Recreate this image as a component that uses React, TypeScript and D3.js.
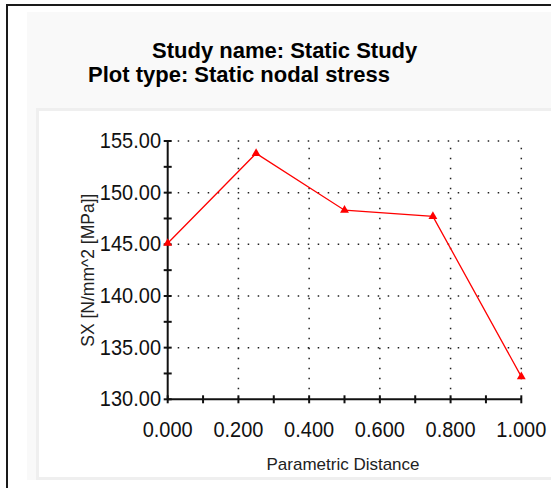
import { useEffect, useRef } from "react"
import * as d3 from "d3"

// Values
const distances = [0, 0.25, 0.5, 0.75, 1.0]
const stressValues = [145.1, 153.8, 148.3, 147.7, 132.2]
const yTicks = [130, 135, 140, 145, 150, 155]
const yMinorTicks = [132.5, 137.5, 142.5, 147.5, 152.5]
const xTicks = [0, 0.2, 0.4, 0.6, 0.8, 1.0]
const xMinorTicks = [0.1, 0.3, 0.5, 0.7, 0.9]
const titleLines = ["Study name: Static Study", "Plot type: Static nodal stress"]
const xLabel = "Parametric Distance"
const yLabel = "SX [N/mm^2 [MPa]]"

const WIDTH = 551
const HEIGHT = 488

export default function App() {
  const svgRef = useRef<SVGSVGElement>(null)

  useEffect(() => {
    if (!svgRef.current) return
    const svg = d3.select(svgRef.current)
    svg.selectAll("*").remove()

    const font = "Arial, 'Liberation Sans', sans-serif"

    // Window frame + panels
    svg.append("rect").attr("width", WIDTH).attr("height", HEIGHT).attr("fill", "#fff")
    svg.append("rect")
      .attr("x", 27).attr("y", 12).attr("width", WIDTH - 27).attr("height", 468)
      .attr("fill", "#f9f9f9")
    svg.append("rect")
      .attr("x", 37.5).attr("y", 109.5).attr("width", WIDTH).attr("height", 369)
      .attr("fill", "#fff").attr("stroke", "#efefef").attr("stroke-width", 3)
    svg.append("path")
      .attr("d", `M7,${HEIGHT} V5 H${WIDTH}`)
      .attr("fill", "none").attr("stroke", "#1a1a1a").attr("stroke-width", 2)

    // Titles
    svg.append("text")
      .attr("x", 152).attr("y", 58)
      .attr("font-family", font).attr("font-size", 22).attr("font-weight", "bold")
      .attr("fill", "#000")
      .text(titleLines[0])
    svg.append("text")
      .attr("x", 88).attr("y", 82)
      .attr("font-family", font).attr("font-size", 22).attr("font-weight", "bold")
      .attr("fill", "#000")
      .text(titleLines[1])

    const x = d3.scaleLinear().domain([0, 1]).range([167.7, 521.3])
    const y = d3.scaleLinear().domain([130, 155]).range([399.3, 141])

    const g = svg.append("g")

    // Dotted grid
    g.selectAll("line.hgrid")
      .data(yTicks.slice(1))
      .enter()
      .append("line")
      .attr("class", "hgrid")
      .attr("x1", x(0)).attr("x2", x(1))
      .attr("y1", (d: number) => y(d)).attr("y2", (d: number) => y(d))
      .attr("stroke", "#222").attr("stroke-width", 1.5)
      .attr("stroke-dasharray", "1.5 8.5")
    g.selectAll("line.vgrid")
      .data(xTicks.slice(1))
      .enter()
      .append("line")
      .attr("class", "vgrid")
      .attr("x1", (d: number) => x(d)).attr("x2", (d: number) => x(d))
      .attr("y1", y(130)).attr("y2", y(155))
      .attr("stroke", "#222").attr("stroke-width", 1.5)
      .attr("stroke-dasharray", "1.5 8.5")

    // Axes
    g.append("line")
      .attr("x1", x(0)).attr("x2", x(0)).attr("y1", y(130)).attr("y2", y(155))
      .attr("stroke", "#111").attr("stroke-width", 2)
    g.append("line")
      .attr("x1", x(0)).attr("x2", x(1)).attr("y1", y(130)).attr("y2", y(130))
      .attr("stroke", "#111").attr("stroke-width", 2)

    g.selectAll("line.ytick")
      .data([...yTicks, ...yMinorTicks])
      .enter()
      .append("line")
      .attr("class", "ytick")
      .attr("x1", x(0) - 4).attr("x2", x(0) + 4)
      .attr("y1", (d: number) => y(d)).attr("y2", (d: number) => y(d))
      .attr("stroke", "#111").attr("stroke-width", 2)
    g.selectAll("line.xtick")
      .data([...xTicks, ...xMinorTicks])
      .enter()
      .append("line")
      .attr("class", "xtick")
      .attr("x1", (d: number) => x(d)).attr("x2", (d: number) => x(d))
      .attr("y1", y(130) - 4).attr("y2", y(130) + 4)
      .attr("stroke", "#111").attr("stroke-width", 2)

    // Tick labels (the original font is a bit taller than Arial)
    g.selectAll("text.ylab")
      .data(yTicks)
      .enter()
      .append("text")
      .attr("class", "ylab")
      .attr("transform", (d: number) => `translate(161, ${y(d) + 7}) scale(1, 1.1)`)
      .attr("text-anchor", "end")
      .attr("font-family", font).attr("font-size", 20)
      .attr("fill", "#111")
      .text((d: number) => d3.format(".2f")(d))
    g.selectAll("text.xlab")
      .data(xTicks)
      .enter()
      .append("text")
      .attr("class", "xlab")
      .attr("transform", (d: number) => `translate(${x(d)}, 437) scale(1, 1.1)`)
      .attr("text-anchor", "middle")
      .attr("font-family", font).attr("font-size", 20)
      .attr("fill", "#111")
      .text((d: number) => d3.format(".3f")(d))

    // Axis titles
    g.append("text")
      .attr("x", 343).attr("y", 470)
      .attr("text-anchor", "middle")
      .attr("font-family", font).attr("font-size", 17)
      .attr("fill", "#222")
      .text(xLabel)
    g.append("text")
      .attr("transform", `translate(94, ${(y(130) + y(155)) / 2}) rotate(-90)`)
      .attr("text-anchor", "middle")
      .attr("font-family", font).attr("font-size", 17.5)
      .attr("fill", "#222")
      .text(yLabel)

    // Data series
    const points = distances.map((d, i) => [d, stressValues[i]] as [number, number])
    const line = d3.line<[number, number]>()
      .x((d) => x(d[0]))
      .y((d) => y(d[1]))
    g.append("path")
      .attr("d", line(points))
      .attr("fill", "none")
      .attr("stroke", "#ff0000")
      .attr("stroke-width", 1.3)

    const tri = d3.symbol().type(d3.symbolTriangle).size(34)
    g.selectAll("path.marker")
      .data(points)
      .enter()
      .append("path")
      .attr("class", "marker")
      .attr("transform", (d: [number, number]) => `translate(${x(d[0])},${y(d[1])})`)
      .attr("d", tri())
      .attr("fill", "#ff0000")
  }, [])

  return (
    <svg
      ref={svgRef}
      width={WIDTH}
      height={HEIGHT}
      style={{ position: "absolute", left: 0, top: 0, display: "block" }}
    />
  )
}
